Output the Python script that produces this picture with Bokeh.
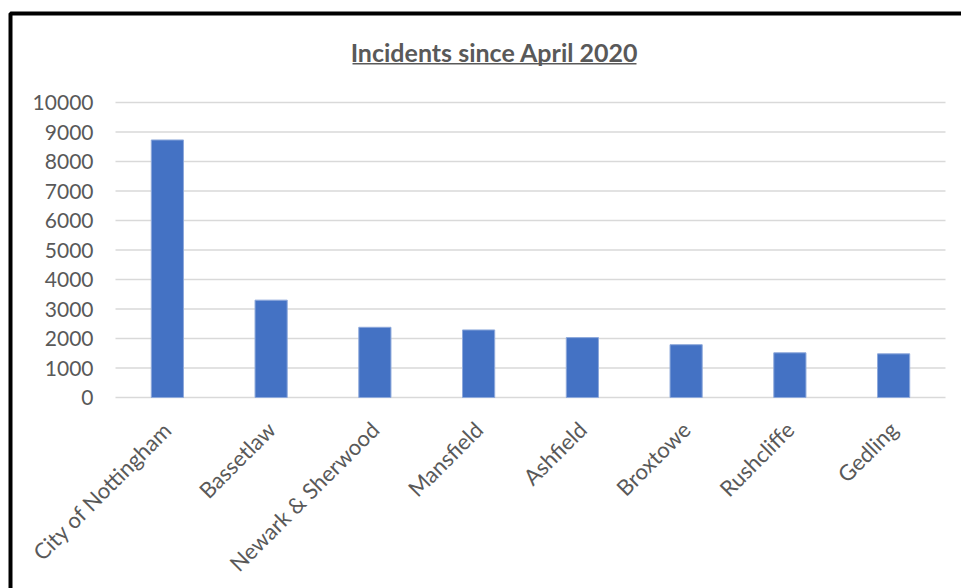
import math
from bokeh.plotting import figure
from bokeh.models import ColumnDataSource, Range1d, Label, BoxAnnotation
from bokeh.embed import file_html
from bokeh.resources import INLINE

categories = ["City of Nottingham", "Bassetlaw", "Newark & Sherwood", "Mansfield",
              "Ashfield", "Broxtowe", "Rushcliffe", "Gedling"]
incidents = [8730, 3300, 2380, 2290, 2030, 1790, 1515, 1480]
y_ticks = [0, 1000, 2000, 3000, 4000, 5000, 6000, 7000, 8000, 9000, 10000]
y_tick_labels = [str(t) for t in y_ticks]
title_text = "Incidents since April 2020"

FONT = "Lato"
GREY = "#595959"
W, H = 961, 588

n = len(categories)
# plotting area: categories span canvas x 115..945, values 0..10000 span canvas y 397..102
px_per_cat = (945 - 115) / n
px_per_unit = (397 - 102) / 10000
x_start = -115 / px_per_cat
x_end = x_start + W / px_per_cat
y_end = 397 / px_per_unit
y_start = -(H - 397) / px_per_unit

bar_src = ColumnDataSource(dict(cat=categories, pos=[i + 0.5 for i in range(n)], val=incidents))
grid_src = ColumnDataSource(dict(tick=y_ticks))

p = figure(width=W, height=H, x_range=Range1d(x_start, x_end), y_range=Range1d(y_start, y_end),
           x_axis_location=None, y_axis_location=None, title=None,
           output_backend="svg", toolbar_location=None,
           min_border_left=0, min_border_right=0, min_border_top=0, min_border_bottom=0)
p.outline_line_color = None
p.background_fill_color = "white"
p.border_fill_color = "white"
p.xgrid.visible = False
p.ygrid.visible = False

# horizontal gridlines across the category area
p.segment(x0=0, x1=n, y0="tick", y1="tick", source=grid_src,
          line_color="#d9d9d9", line_width=1.5)

p.vbar(x="pos", top="val", width=0.31, source=bar_src, fill_color="#4472C4",
       line_color="#8EA9DB", line_width=1)

# y tick labels
for t, lab in zip(y_ticks, y_tick_labels):
    p.add_layout(Label(x=0, y=t, x_offset=-22, text=lab, text_align="right",
                       text_baseline="middle", text_font=FONT, text_font_size="21px",
                       text_color=GREY))

# category labels, rotated 45 degrees, ending under each category centre
for i, c in enumerate(categories):
    p.add_layout(Label(x=i + 0.5, y=H - 425, y_units="screen", text=c,
                       angle=math.pi / 4, text_align="right", text_baseline="middle",
                       text_font=FONT, text_font_size="22px", text_color=GREY))

title = Label(x=494, y=H - 51.5, x_units="screen", y_units="screen", text=title_text,
              text_font=FONT, text_font_style="bold", text_font_size="25px",
              text_color=GREY, text_align="center", text_baseline="middle")
p.add_layout(title)

underline = BoxAnnotation(left=352, right=636, top=H - 62.5, bottom=H - 64,
                          left_units="screen", right_units="screen",
                          top_units="screen", bottom_units="screen",
                          fill_color=GREY, fill_alpha=1, line_color=None)
p.add_layout(underline)

frame_box = BoxAnnotation(left=10, right=W + 200, top=H - 13, bottom=-200,
                          left_units="screen", right_units="screen",
                          top_units="screen", bottom_units="screen",
                          fill_alpha=0, line_color="black", line_alpha=1, line_width=4)
p.add_layout(frame_box)

open("out.html", "w").write(file_html(p, INLINE))
